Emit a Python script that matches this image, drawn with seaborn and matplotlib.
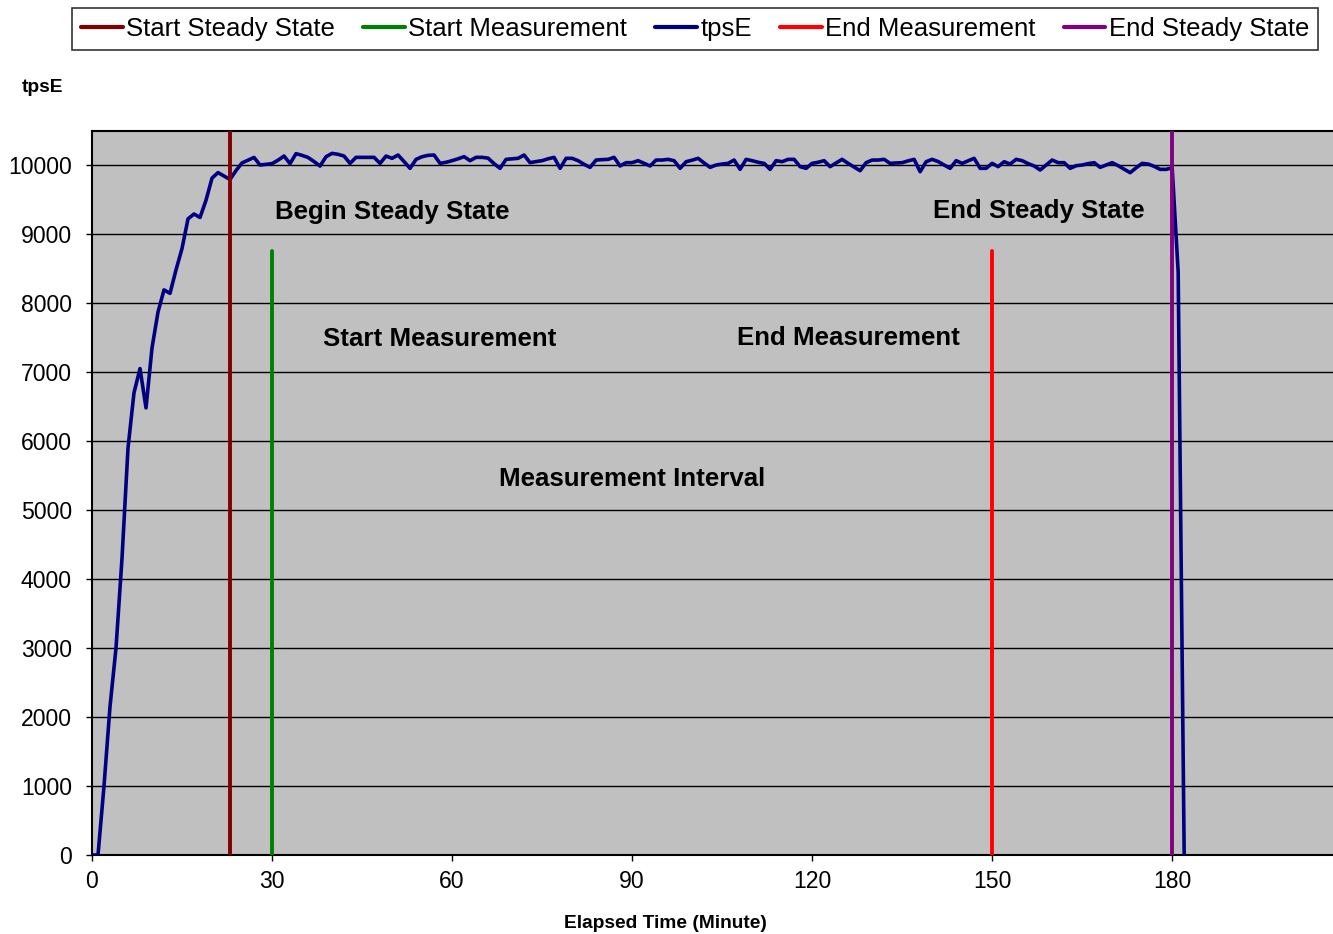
import matplotlib
matplotlib.use("Agg")
import matplotlib.pyplot as plt
import seaborn as sns
import numpy as np
import pandas as pd

# ---------------- data ----------------
minutes = list(range(0, 183))
tpse = [
    0, 0, 1000, 2150, 3000, 4300, 5900, 6700, 7050, 6480,
    7350, 7870, 8190, 8140, 8480, 8790, 9220, 9290, 9240, 9490,
    9810, 9890, 9840, 9790, 9920, 10030, 10070, 10110, 10000, 10010,
    10020, 10070, 10130, 10020, 10165, 10140, 10110, 10050, 9985, 10120,
    10169, 10155, 10130, 10024, 10111, 10111, 10111, 10111, 10024, 10130,
    10097, 10145, 10050, 9952, 10082, 10120, 10140, 10145, 10024, 10040,
    10063, 10090, 10121, 10063, 10111, 10111, 10100, 10020, 9952, 10082,
    10090, 10097, 10145, 10034, 10050, 10063, 10090, 10111, 9952, 10097,
    10097, 10063, 10010, 9966, 10072, 10078, 10082, 10111, 9986, 10034,
    10034, 10063, 10024, 9986, 10072, 10072, 10082, 10063, 9952, 10048,
    10070, 10097, 10030, 9966, 10000, 10014, 10024, 10072, 9937, 10082,
    10063, 10040, 10024, 9937, 10063, 10048, 10082, 10082, 9976, 9952,
    10024, 10040, 10063, 9976, 10030, 10082, 10024, 9970, 9918, 10034,
    10072, 10072, 10082, 10024, 10030, 10034, 10060, 10082, 9903, 10048,
    10082, 10050, 10000, 9952, 10063, 10024, 10060, 10097, 9952, 9952,
    10024, 9976, 10048, 10014, 10082, 10063, 10020, 9986, 9928, 10000,
    10072, 10034, 10034, 9952, 9990, 10000, 10020, 10034, 9966, 10000,
    10034, 9990, 9940, 9889, 9960, 10024, 10014, 9980, 9937, 9937,
    9960, 8450, 0,
]

start_steady_x = [23, 23]
start_steady_y = [0, 10500]
start_meas_x = [30, 30]
start_meas_y = [0, 8750]
end_meas_x = [150, 150]
end_meas_y = [0, 8750]
end_steady_x = [180, 180]
end_steady_y = [0, 10500]

x_ticks = [0, 30, 60, 90, 120, 150, 180]
y_ticks = list(range(0, 10001, 1000))

annotations = [
    ("Begin Steady State", 50, 9320),
    ("End Steady State", 157.7, 9335),
    ("Start Measurement", 58, 7480),
    ("End Measurement", 126, 7495),
    ("Measurement Interval", 90, 5450),
]

# ---------------- style ----------------
sns.set_style("white")
plt.rcParams["font.family"] = ["Liberation Sans", "DejaVu Sans"]
plt.rcParams["text.color"] = "black"
plt.rcParams["xtick.color"] = "black"
plt.rcParams["ytick.color"] = "black"
plt.rcParams["xtick.labelcolor"] = "black"
plt.rcParams["ytick.labelcolor"] = "black"

fig = plt.figure(figsize=(13.33, 9.34), dpi=100)
ax = fig.add_axes([92 / 1333, 1 - 855 / 934, 1 - 92 / 1333, (855 - 131) / 934])
ax.set_facecolor("#C0C0C0")

df = pd.DataFrame({"minute": minutes, "tpsE": tpse})
lw = 2.6

sns.lineplot(data=df, x="minute", y="tpsE", ax=ax, color="#000080", lw=lw,
             label="tpsE", zorder=3)
sns.lineplot(x=start_steady_x, y=start_steady_y, ax=ax, color="#800000", lw=2.8,
             label="Start Steady State", zorder=4, estimator=None, sort=False)
sns.lineplot(x=start_meas_x, y=start_meas_y, ax=ax, color="#008000", lw=2.8,
             label="Start Measurement", zorder=4, estimator=None, sort=False)
sns.lineplot(x=end_meas_x, y=end_meas_y, ax=ax, color="#FF0000", lw=2.8,
             label="End Measurement", zorder=4, estimator=None, sort=False)
sns.lineplot(x=end_steady_x, y=end_steady_y, ax=ax, color="#800080", lw=2.8,
             label="End Steady State", zorder=4, estimator=None, sort=False)

ax.set_xlim(0, 206.8)
ax.set_ylim(0, 10493)
ax.set_xticks(x_ticks)
ax.set_yticks(y_ticks)
ax.set_xticklabels([str(t) for t in x_ticks])
ax.set_yticklabels([str(t) for t in y_ticks])
ax.tick_params(axis="x", direction="out", length=4.5, width=1, pad=6,
               labelsize=16.6, colors="black", bottom=True)
ax.tick_params(axis="y", direction="out", length=4.5, width=1, pad=10,
               labelsize=16.6, colors="black", left=True)
ax.set_xlabel("")
ax.set_ylabel("")
ax.grid(axis="y", color="black", lw=1)
ax.grid(axis="x", visible=False)
ax.set_axisbelow(True)
for side in ["top", "left", "bottom"]:
    ax.spines[side].set_visible(True)
    ax.spines[side].set_color("black")
    ax.spines[side].set_linewidth(1.5)
ax.spines["right"].set_visible(False)

for text, xx, yy in annotations:
    ax.text(xx, yy, text, ha="center", va="center", fontsize=18.6,
            fontweight="bold", color="black", zorder=5)

fig.text(43 / 1333, 1 - 88 / 934, "tpsE", ha="center", va="center",
         fontsize=13.8, fontweight="bold", color="black")
fig.text(665 / 1333, 1 - 923 / 934, "Elapsed Time (Minute)", ha="center",
         va="center", fontsize=13.8, fontweight="bold", color="black")

handles, labels = ax.get_legend_handles_labels()
order = ["Start Steady State", "Start Measurement", "tpsE", "End Measurement",
         "End Steady State"]
hmap = dict(zip(labels, handles))
ax.get_legend().remove()
leg = fig.legend([hmap[o] for o in order], order, loc="center",
                 bbox_to_anchor=(695 / 1333, 1 - 29 / 934), ncol=5,
                 prop={"family": ["Liberation Sans", "DejaVu Sans"], "size": 18.5},
                 frameon=True, fancybox=False, edgecolor="black",
                 handlelength=1.63, handletextpad=0.12, columnspacing=1.1,
                 borderpad=0.36, borderaxespad=0)
leg.get_frame().set_linewidth(1.2)
for t in leg.get_texts():
    t.set_color("black")
for l in leg.get_lines():
    l.set_linewidth(3)

fig.savefig("out.png", dpi=100, facecolor="white")
